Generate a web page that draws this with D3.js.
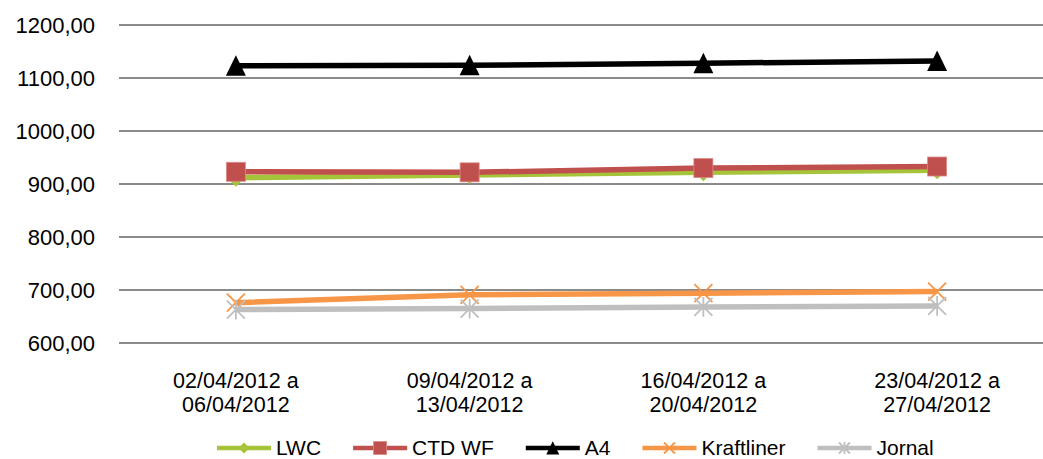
<!DOCTYPE html>
<html>
<head>
<meta charset="utf-8">
<script src="https://cdn.jsdelivr.net/npm/d3@7"></script>
<style>
  html, body { margin: 0; padding: 0; background: #fff; }
  svg { display: block; font-family: "Liberation Sans", Arial, sans-serif; }
</style>
</head>
<body>
<svg id="chart" width="1043" height="459"></svg>
<script>
// Weekly prices per paper grade, April 2012
const periods = [
  ["02/04/2012 a", "06/04/2012"],
  ["09/04/2012 a", "13/04/2012"],
  ["16/04/2012 a", "20/04/2012"],
  ["23/04/2012 a", "27/04/2012"]
];
const lwc        = [912, 917, 922, 926];
const ctdWf      = [923, 922, 930, 933];
const a4         = [1123, 1124, 1128, 1132];
const kraftliner = [676, 691, 694, 697];
const jornal     = [663, 665, 668, 670];
const yTicks     = [600, 700, 800, 900, 1000, 1100, 1200];

const series = [
  { name: "LWC",        values: lwc,        color: "#A6C43A", marker: "diamond" },
  { name: "CTD WF",     values: ctdWf,      color: "#C0504D", marker: "square" },
  { name: "A4",         values: a4,         color: "#000000", marker: "triangle" },
  { name: "Kraftliner", values: kraftliner, color: "#F79646", marker: "x" },
  { name: "Jornal",     values: jornal,     color: "#BFBFBF", marker: "star" }
];

const svg = d3.select("#chart");
const plot = { left: 119, right: 1054, top: 25, bottom: 343 };

const x = d3.scaleBand()
  .domain(periods.map((p, i) => i))
  .range([plot.left, plot.right]);
const cx = i => x(i) + x.bandwidth() / 2;

const y = d3.scaleLinear()
  .domain([600, 1200])
  .range([plot.bottom, plot.top]);

const locale = d3.formatLocale({ decimal: ",", thousands: "", grouping: [3], currency: ["", ""] });
const fmt = locale.format(".2f");

// horizontal gridlines
svg.append("g")
  .selectAll("line")
  .data(yTicks)
  .join("line")
  .attr("x1", plot.left).attr("x2", plot.right)
  .attr("y1", d => y(d)).attr("y2", d => y(d))
  .attr("stroke", "#8a8a8a")
  .attr("stroke-width", 1.8);

// y axis labels
const yAxis = d3.axisLeft(y).tickValues(yTicks).tickFormat(fmt).tickSize(0).tickPadding(24);
const yg = svg.append("g").attr("transform", `translate(${plot.left},0)`).call(yAxis);
yg.select(".domain").remove();
yg.selectAll("text")
  .attr("font-size", 22)
  .attr("fill", "#000")
  .attr("font-family", "'Liberation Sans', Arial, sans-serif");

// x axis labels (two lines each)
const xg = svg.append("g");
periods.forEach((p, i) => {
  const t = xg.append("text")
    .attr("x", cx(i))
    .attr("text-anchor", "middle")
    .attr("font-size", 21.5)
    .attr("fill", "#000");
  t.append("tspan").attr("x", cx(i)).attr("y", 388).text(p[0]);
  t.append("tspan").attr("x", cx(i)).attr("y", 412).text(p[1]);
});

// marker shapes
function drawMarker(g, type, color, s) {
  const h = s / 2;
  if (type === "diamond") {
    g.append("path").attr("d", `M0,${-h}L${h},0L0,${h}L${-h},0Z`).attr("fill", color);
  } else if (type === "square") {
    g.append("rect").attr("x", -h).attr("y", -h).attr("width", s).attr("height", s)
      .attr("fill", color).attr("stroke", "#d98a88").attr("stroke-width", 0.8);
  } else if (type === "triangle") {
    g.append("path").attr("d", `M0,${-h * 1.05}L${h},${h * 1.0}L${-h},${h * 1.0}Z`).attr("fill", color);
  } else if (type === "x") {
    g.append("path").attr("d", `M${-h},${-h}L${h},${h}M${-h},${h}L${h},${-h}`)
      .attr("stroke", color).attr("stroke-width", 1.8).attr("fill", "none");
  } else if (type === "star") {
    g.append("path").attr("d", `M${-h},${-h}L${h},${h}M${-h},${h}L${h},${-h}M0,${-h * 1.1}L0,${h * 1.1}`)
      .attr("stroke", color).attr("stroke-width", 1.8).attr("fill", "none");
  }
}

const markerSize = { diamond: 18, square: 19, triangle: 20, x: 18, star: 18 };

const line = d3.line().x((d, i) => cx(i)).y(d => y(d));

series.forEach(s => {
  const g = svg.append("g");
  g.append("path")
    .datum(s.values)
    .attr("d", line)
    .attr("fill", "none")
    .attr("stroke", s.color)
    .attr("stroke-width", 5.5)
    .attr("stroke-linejoin", "round");
  s.values.forEach((v, i) => {
    const m = g.append("g").attr("transform", `translate(${cx(i)},${y(v)})`);
    drawMarker(m, s.marker, s.color, markerSize[s.marker]);
  });
});

// legend
const legend = svg.append("g");
const legendY = 448;
let lx = 217;
const legendMarker = { diamond: 11, square: 13, triangle: 13, x: 11, star: 11 };
series.forEach(s => {
  const item = legend.append("g");
  item.append("line")
    .attr("x1", lx).attr("x2", lx + 54)
    .attr("y1", legendY).attr("y2", legendY)
    .attr("stroke", s.color).attr("stroke-width", 4.3);
  const m = item.append("g").attr("transform", `translate(${lx + 27},${legendY})`);
  drawMarker(m, s.marker, s.color, legendMarker[s.marker]);
  const t = item.append("text")
    .attr("x", lx + 59)
    .attr("y", 454.5)
    .attr("font-size", 21)
    .attr("fill", "#000")
    .text(s.name);
  lx = lx + 59 + t.node().getComputedTextLength() + 32;
});
</script>
</body>
</html>
